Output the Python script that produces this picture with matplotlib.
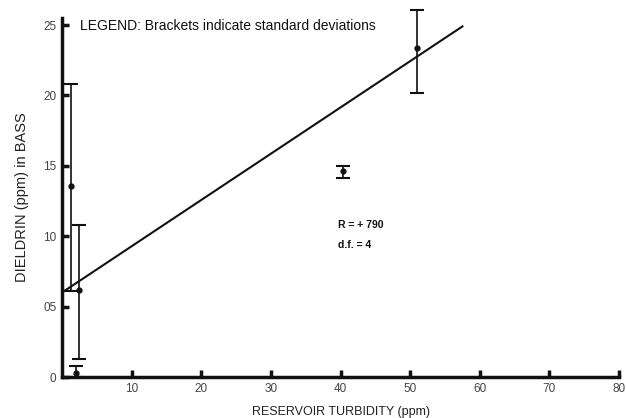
import matplotlib.pyplot as plt

# dieldrin residue in bass vs. reservoir turbidity
turbidity = [1.3, 2.5, 2.0, 40.3, 51.0]
dieldrin = [13.6, 6.2, 0.3, 14.6, 23.4]
sd_low = [7.5, 4.9, 0.3, 0.5, 3.2]
sd_high = [7.2, 4.6, 0.5, 0.4, 2.7]

# fitted regression line end points
fit_x = [0.0, 57.5]
fit_y = [6.0, 24.9]

ytick_vals = [0, 5, 10, 15, 20, 25]
ytick_text = ["0", "05", "10", "15", "20", "25"]
xtick_vals = [10, 20, 30, 40, 50, 60, 70, 80]

plt.rcParams['font.family'] = ['Liberation Sans', 'DejaVu Sans']

fig = plt.figure(figsize=(6.26, 4.18), dpi=100)
ax = fig.add_axes([0.099, 0.098, 0.89, 0.859])

ax.plot(fit_x, fit_y, color="#111111", lw=1.5)
bars = ax.errorbar(turbidity, dieldrin, yerr=[sd_low, sd_high], fmt="o", ms=3.5,
                   color="#111111", ecolor="#111111", elinewidth=1.2, capsize=5,
                   capthick=1.5)
for art in bars.lines[1] + bars.lines[2]:
    art.set_clip_on(False)

ax.set_xlim(0, 80)
ax.set_ylim(0, 25.5)
ax.set_xticks(xtick_vals)
ax.set_yticks(ytick_vals)
ax.set_yticklabels(ytick_text)
for side in ["top", "right"]:
    ax.spines[side].set_visible(False)
for side in ["left", "bottom"]:
    ax.spines[side].set_linewidth(2.5)
    ax.spines[side].set_color("#111111")
ax.tick_params(direction="in", length=5, width=2.5, color="#111111",
               labelsize=8.5, labelcolor="#444444", pad=4)

ax.set_xlabel("RESERVOIR TURBIDITY (ppm)", fontsize=9, color="#222222", labelpad=8)
ax.set_ylabel("DIELDRIN (ppm) in BASS", fontsize=10.5, color="#222222", labelpad=10)

ax.text(2.6, 24.9, "LEGEND: Brackets indicate standard deviations",
        fontsize=10, color="#111111", va="center")
ax.text(39.6, 10.8, "R = + 790", fontsize=7.5, color="#111111",
        fontweight="bold", va="center")
ax.text(39.6, 9.4, "d.f. = 4", fontsize=7.5, color="#111111",
        fontweight="bold", va="center")

fig.savefig("out.png")
